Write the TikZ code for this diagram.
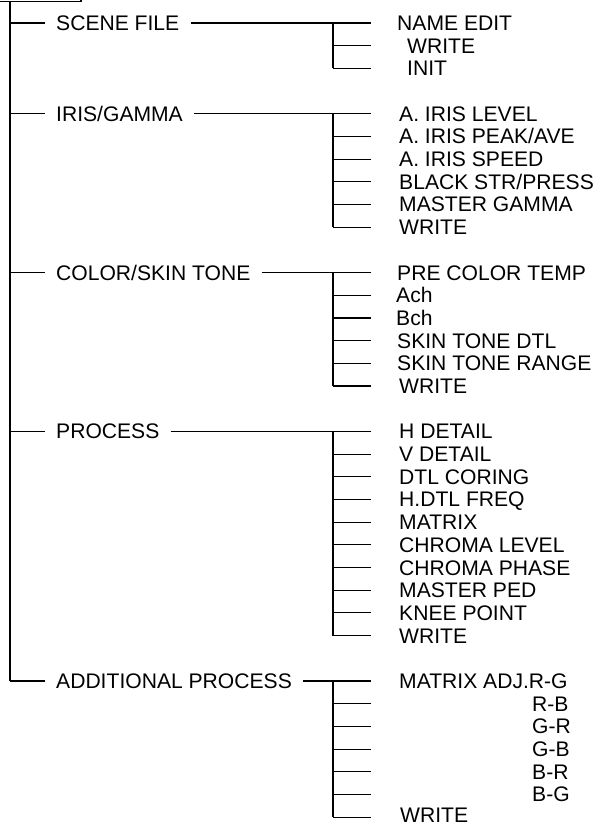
\documentclass[tikz,border=0pt]{standalone}
\usepackage{fontspec}
\setmainfont{Liberation Sans}
\newcommand\rowy[1]{23+22.69*#1}
\newcommand\myleaf[5][7.45]{%
  \node[leaf] (#2) at (#4,{\rowy{#3}+#1}) {#5};
  \coordinate (#2s) at (333,{\rowy{#3}});
  \coordinate (#2e) at (371,{\rowy{#3}});
  \draw[conn] (#2s) -- (#2e);
}
\newcommand\mygroup[4]{% name, first row, last row, text
  \node[leaf] (#1) at (56,{\rowy{#2}+7.45}) {#4};
  \coordinate (#1j) at (10,{\rowy{#2}});
  \coordinate (#1s) at (333,{\rowy{#2}});
  \coordinate (#1l) at (333,{\rowy{#3}});
  \coordinate (#1e) at (371,{\rowy{#2}});
  \draw[conn] (#1j) -- ([xshift=-11pt]#1.west |- #1j);
  \draw[conn] ([xshift=11pt]#1.east |- #1j) -- (#1e);
  \draw[conn] (#1s) -- (#1l);
}
\begin{document}
\begin{tikzpicture}[x=1pt,y=-1pt,
  leaf/.style={inner sep=0pt, anchor=base west, font=\fontsize{21.1}{22}\selectfont},
  conn/.style={line width=1.1pt, line cap=butt}]
\useasboundingbox (0,0) rectangle (598,824);
% top box edge and main trunk
\coordinate (bl) at (-3,1.5);
\coordinate (br) at (81,1.5);
\coordinate (brt) at (81,-5);
\draw[conn] (bl) -- (br) -- (brt);
\coordinate (top) at (10,1.5);
\coordinate (bot) at (10,{\rowy{29}});
\draw[conn] (top) -- (bot);
% groups
\mygroup{ga}{0}{2}{SCENE FILE}
\myleaf{a0}{0}{397}{NAME EDIT}
\myleaf{a1}{1}{407}{WRITE}
\myleaf{a2}{2}{407}{INIT}
\mygroup{gb}{4}{9}{IRIS/GAMMA}
\myleaf{b0}{4}{399}{A. IRIS LEVEL}
\myleaf{b1}{5}{399}{A. IRIS PEAK/AVE}
\myleaf{b2}{6}{399}{A. IRIS SPEED}
\myleaf{b3}{7}{399}{BLACK STR/PRESS}
\myleaf{b4}{8}{399}{MASTER GAMMA}
\myleaf{b5}{9}{399}{WRITE}
\mygroup{gc}{11}{16}{COLOR/SKIN TONE}
\myleaf{c0}{11}{397}{PRE COLOR TEMP}
\myleaf{c1}{12}{396}{Ach}
\myleaf{c2}{13}{396}{Bch}
\myleaf{c3}{14}{397}{SKIN TONE DTL}
\myleaf{c4}{15}{397}{SKIN TONE RANGE}
\myleaf{c5}{16}{399}{WRITE}
\mygroup{gd}{18}{27}{PROCESS}
\myleaf{d0}{18}{399}{H DETAIL}
\myleaf{d1}{19}{399}{V DETAIL}
\myleaf{d2}{20}{399}{DTL CORING}
\myleaf{d3}{21}{399}{H.DTL FREQ}
\myleaf{d4}{22}{399}{MATRIX}
\myleaf{d5}{23}{399}{CHROMA LEVEL}
\myleaf{d6}{24}{399}{CHROMA PHASE}
\myleaf{d7}{25}{399}{MASTER PED}
\myleaf{d8}{26}{399}{KNEE POINT}
\myleaf{d9}{27}{399}{WRITE}
\mygroup{ge}{29}{35}{ADDITIONAL PROCESS}
\myleaf{e0}{29}{399}{MATRIX ADJ.R-G}
\myleaf{e1}{30}{532}{R-B}
\myleaf{e2}{31}{532}{G-R}
\myleaf{e3}{32}{532}{G-B}
\myleaf{e4}{33}{532}{B-R}
\myleaf{e5}{34}{532}{B-G}
\myleaf[5.6]{e6}{35}{400}{WRITE}
\end{tikzpicture}
\end{document}
